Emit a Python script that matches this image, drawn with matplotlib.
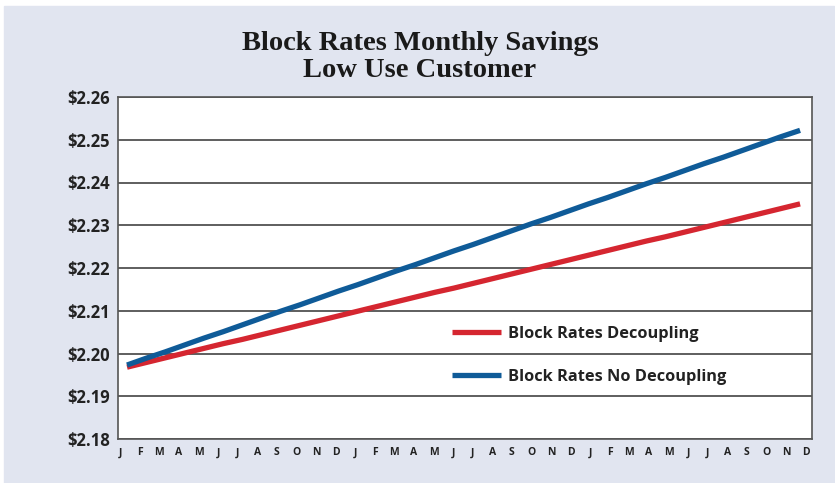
import numpy as np
import matplotlib
matplotlib.use('Agg')
import matplotlib.pyplot as plt
from matplotlib.patches import Rectangle
from matplotlib.ticker import FuncFormatter, MultipleLocator

# ---- Data ----
months = ['J', 'F', 'M', 'A', 'M', 'J', 'J', 'A', 'S', 'O', 'N', 'D'] * 3

decoupling = [2.1968, 2.1979, 2.1990, 2.2001, 2.2012, 2.2023, 2.2033, 2.2044,
              2.2055, 2.2066, 2.2077, 2.2088, 2.2099, 2.2110, 2.2121, 2.2132,
              2.2143, 2.2153, 2.2164, 2.2175, 2.2186, 2.2197, 2.2208, 2.2219,
              2.2230, 2.2241, 2.2252, 2.2263, 2.2273, 2.2284, 2.2295, 2.2306,
              2.2317, 2.2328, 2.2339, 2.2350]
no_decoupling = [2.1973, 2.1989, 2.2004, 2.2020, 2.2036, 2.2051, 2.2067, 2.2083,
                 2.2099, 2.2114, 2.2130, 2.2146, 2.2161, 2.2177, 2.2193, 2.2208,
                 2.2224, 2.2240, 2.2255, 2.2271, 2.2287, 2.2303, 2.2318, 2.2334,
                 2.2350, 2.2365, 2.2381, 2.2397, 2.2412, 2.2428, 2.2444, 2.2459,
                 2.2475, 2.2491, 2.2507, 2.2522]

labels = ['Block Rates Decoupling', 'Block Rates No Decoupling']
colors = ['#d52630', '#0f5b98']
BG = '#e1e5f0'

W, H = 835, 483
fig = plt.figure(figsize=(W / 100, H / 100), dpi=100, facecolor='white')
fig.patches.append(Rectangle((4 / W, 0), 1 - 5 / W, 1 - 6 / H,
                             transform=fig.transFigure, color=BG, zorder=-5))

# plot area in pixels: left 118, right 812, top 97, bottom 439
ax = fig.add_axes([118 / W, 1 - 439 / H, (812 - 118) / W, (439 - 97) / H])
ax.set_facecolor('white')

x = np.arange(len(months))
ax.plot(x, decoupling, color=colors[0], lw=3.8, solid_capstyle='butt',
        label=labels[0], zorder=3)
ax.plot(x, no_decoupling, color=colors[1], lw=3.8, solid_capstyle='butt',
        label=labels[1], zorder=3)

ax.set_ylim(2.18, 2.26)
ax.yaxis.set_major_locator(MultipleLocator(0.01))
ax.yaxis.set_major_formatter(FuncFormatter(lambda v, p: r'\$%.2f' % v))
ax.set_xlim(-0.47, 35.62)
ax.set_xticks(-0.36 + x * 1.0185)
ax.set_xticklabels(months)

ax.grid(axis='y', color='#333333', lw=1.1)
ax.set_axisbelow(True)
for s in ax.spines.values():
    s.set_color('#555555')
    s.set_linewidth(1.2)
ax.tick_params(axis='both', length=0)
ax.tick_params(axis='y', pad=6)
ax.tick_params(axis='x', pad=6)
for t in ax.get_yticklabels():
    t.set_fontfamily('Open Sans')
    t.set_fontweight('bold')
    t.set_fontsize(12)
    t.set_color('#222222')
for t in ax.get_xticklabels():
    t.set_fontfamily('Open Sans')
    t.set_fontweight('bold')
    t.set_fontsize(7.5)
    t.set_color('#222222')

leg = ax.legend(loc='upper left', bbox_to_anchor=(0.46, 0.375), frameon=False,
                handlelength=3.0, handletextpad=0.4, labelspacing=1.66,
                prop={'family': 'Open Sans', 'weight': 'bold', 'size': 11.8})
for t in leg.get_texts():
    t.set_color('#222222')

fig.text(0.503, 1 - 57 / H, 'Block Rates Monthly Savings\nLow Use Customer',
         ha='center', va='center', family='Liberation Serif', weight='bold',
         fontsize=20.5, linespacing=1.15, color='#1a1a1a')

fig.savefig('out.png', dpi=100, facecolor=fig.get_facecolor())
